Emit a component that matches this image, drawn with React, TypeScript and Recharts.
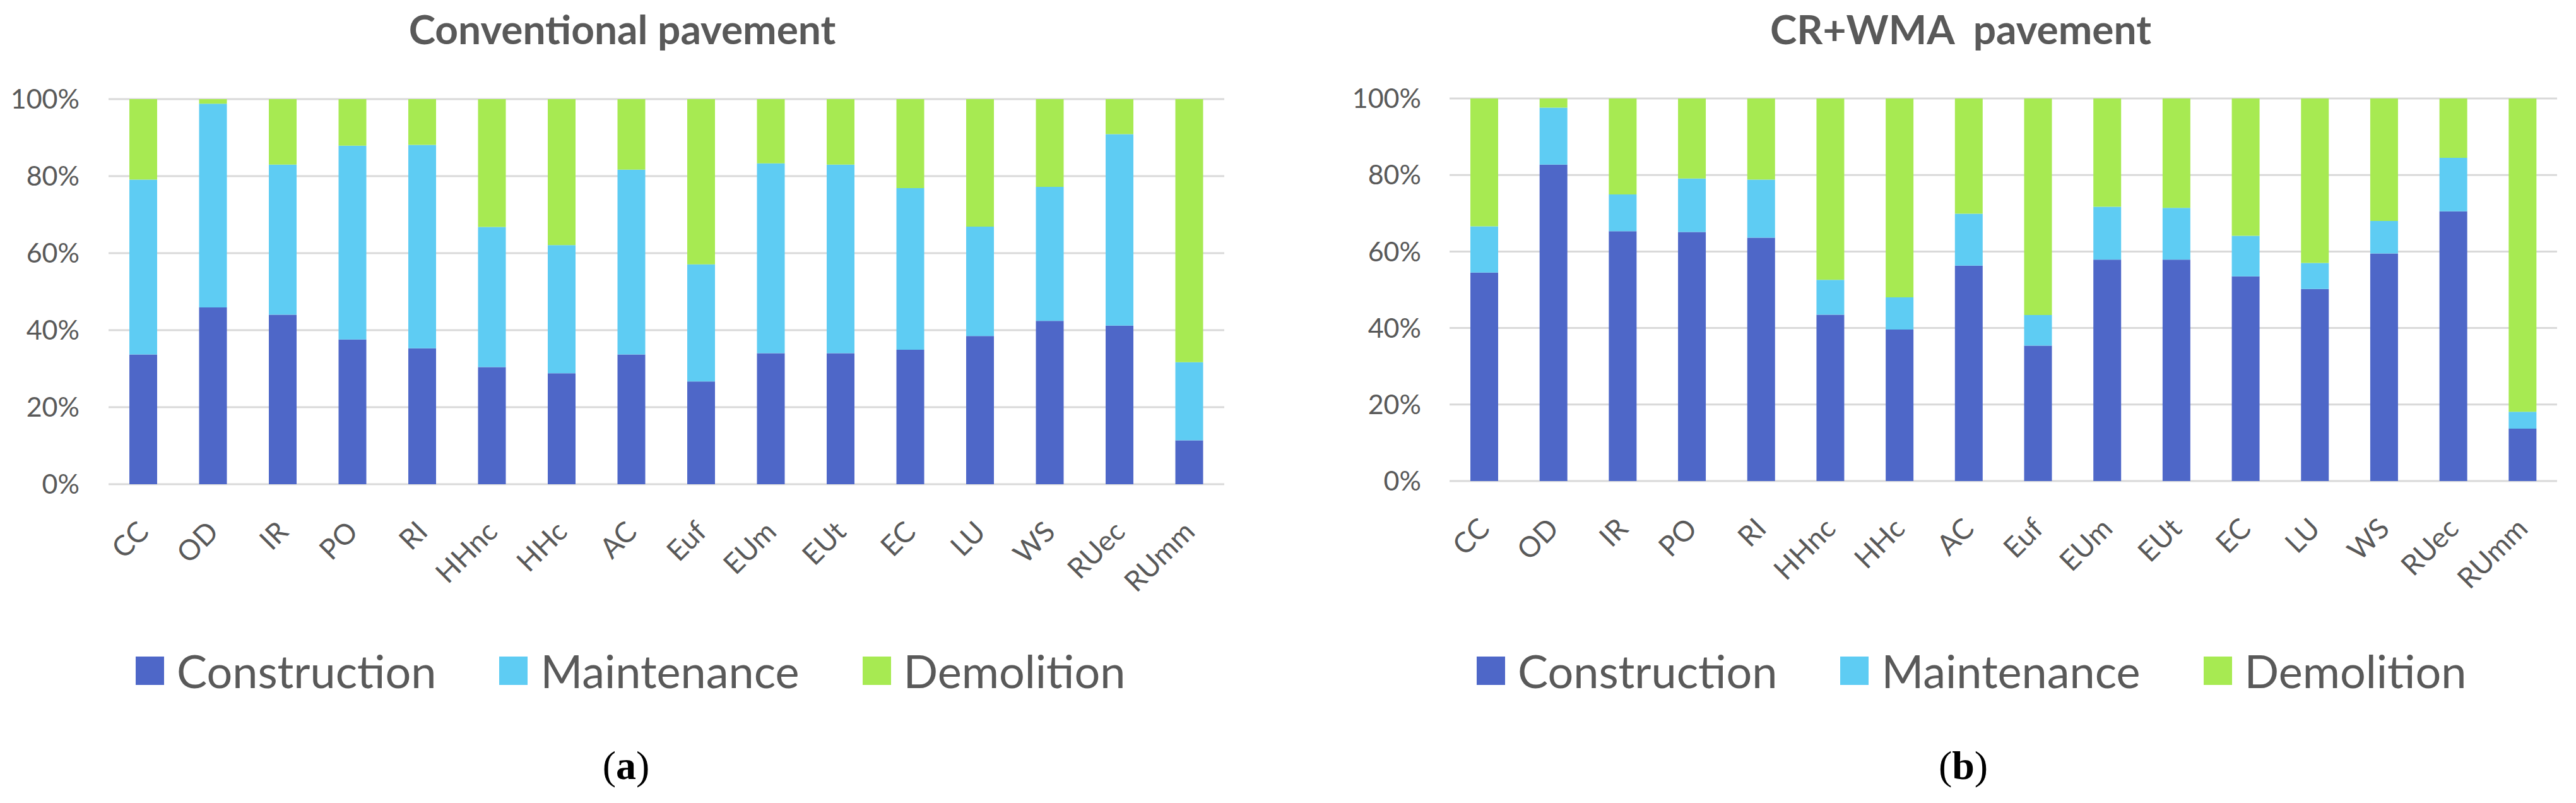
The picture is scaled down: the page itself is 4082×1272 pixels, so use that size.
import { BarChart, Bar, XAxis, YAxis, CartesianGrid } from 'recharts';

const categories = ['CC', 'OD', 'IR', 'PO', 'RI', 'HHnc', 'HHc', 'AC', 'Euf', 'EUm', 'EUt', 'EC', 'LU', 'WS', 'RUec', 'RUmm'];

// (a) conventional pavement, % of total
const convConstruction = [33.7, 45.9, 44.0, 37.6, 35.3, 30.4, 28.8, 33.7, 26.7, 34.0, 34.0, 34.9, 38.5, 42.4, 41.2, 11.4];
const convMaintenance = [45.4, 52.9, 39.0, 50.3, 52.8, 36.4, 33.3, 48.0, 30.4, 49.3, 49.0, 42.0, 28.4, 34.8, 49.7, 20.3];
const convDemolition = [20.9, 1.2, 17.0, 12.1, 11.9, 33.2, 37.9, 18.3, 42.9, 16.7, 17.0, 23.1, 33.1, 22.8, 9.1, 68.3];

// (b) CR+WMA pavement, % of total
const wmaConstruction = [54.5, 82.7, 65.3, 65.1, 63.6, 43.5, 39.6, 56.3, 35.4, 57.9, 57.9, 53.5, 50.2, 59.5, 70.5, 13.7];
const wmaMaintenance = [12.1, 14.9, 9.6, 14.0, 15.2, 9.1, 8.4, 13.6, 8.0, 13.8, 13.5, 10.6, 6.8, 8.5, 14.0, 4.4];
const wmaDemolition = [33.4, 2.4, 25.1, 20.9, 21.2, 47.4, 52.0, 30.1, 56.6, 28.3, 28.6, 35.9, 43.0, 32.0, 15.5, 81.9];

const yTicks = [0, 0.2, 0.4, 0.6, 0.8, 1];
const seriesKeys = ['construction', 'maintenance', 'demolition'];
const seriesNames = ['Construction', 'Maintenance', 'Demolition'];
const seriesColors = ['#4E67C8', '#5ECCF3', '#A7EA52'];

const FONT = 'Lato, "Open Sans", sans-serif';
const TEXT = '#595959';
const CHART_H = 1000;

function buildRows(c: number[], m: number[], d: number[]) {
  return categories.map((name, i) => ({
    name,
    construction: c[i],
    maintenance: m[i],
    demolition: d[i],
  }));
}

const convRows = buildRows(convConstruction, convMaintenance, convDemolition);
const wmaRows = buildRows(wmaConstruction, wmaMaintenance, wmaDemolition);

function SlantTick(props: any) {
  const { x, y, payload } = props;
  const py = y + 67;
  return (
    <text
      x={x}
      y={py}
      dy="0.35em"
      textAnchor="end"
      transform={`rotate(-45, ${x}, ${py})`}
      fontFamily={FONT}
      fontSize={45}
      fill={TEXT}
    >
      {payload.value}
    </text>
  );
}

interface PanelProps {
  left: number;
  title: string;
  titleX: number;
  rows: any[];
  margin: { top: number; right: number; left: number; bottom: number };
  plotBottom: number;
  tickGap: number;
  legendX: number;
  caption: string;
  captionX: number;
}

function Panel({ left, title, titleX, rows, margin, plotBottom, tickGap, legendX, caption, captionX }: PanelProps) {
  return (
    <div style={{ position: 'absolute', left, top: 0, width: 2041, height: 1272 }}>
      <div
        style={{
          position: 'absolute',
          left: titleX - left,
          top: 45,
          transform: 'translate(-50%, -50%)',
          fontFamily: FONT,
          fontWeight: 700,
          fontSize: 64,
          color: TEXT,
          whiteSpace: 'pre',
        }}
      >
        {title}
      </div>
      <div style={{ position: 'absolute', left: 0, top: 0 }}>
        <BarChart width={2041} height={CHART_H} data={rows} stackOffset="expand" margin={margin}>
          <CartesianGrid vertical={false} stroke="#D9D9D9" strokeWidth={3} />
          <XAxis
            dataKey="name"
            interval={0}
            height={CHART_H - plotBottom}
            axisLine={false}
            tickLine={false}
            tickSize={0}
            tickMargin={0}
            tick={<SlantTick />}
          />
          <YAxis
            width={130}
            domain={[0, 1]}
            ticks={yTicks}
            axisLine={false}
            tickLine={false}
            tickSize={0}
            tickMargin={tickGap}
            tickFormatter={(v: number) => `${Math.round(v * 100)}%`}
            tick={{ fontFamily: FONT, fontSize: 43, fill: TEXT }}
          />
          {seriesKeys.map((k, i) => (
            <Bar key={k} dataKey={k} name={seriesNames[i]} stackId="a" fill={seriesColors[i]} barSize={44} isAnimationActive={false} />
          ))}
        </BarChart>
      </div>
      <div
        style={{
          position: 'absolute',
          left: legendX - left,
          top: 1062,
          transform: 'translateY(-50%)',
          display: 'flex',
          alignItems: 'center',
          gap: 100,
          fontFamily: FONT,
          fontSize: 72,
          color: TEXT,
          whiteSpace: 'nowrap',
        }}
      >
        {seriesNames.map((n, i) => (
          <div key={n} style={{ display: 'flex', alignItems: 'center', gap: 20 }}>
            <span style={{ display: 'inline-block', width: 45, height: 45, background: seriesColors[i] }} />
            <span>{n}</span>
          </div>
        ))}
      </div>
      <div
        style={{
          position: 'absolute',
          left: captionX - left,
          top: 1213,
          transform: 'translate(-50%, -50%)',
          fontFamily: '"Liberation Serif", "Times New Roman", serif',
          fontSize: 64,
          color: '#000',
        }}
      >
        (<b>{caption}</b>)
      </div>
    </div>
  );
}

export default function App() {
  return (
    <div style={{ position: 'relative', left: -8, top: -8, width: 4082, height: 1272, background: '#fff' }}>
      <Panel
        left={0}
        title="Conventional pavement"
        titleX={986}
        rows={convRows}
        margin={{ top: 157, right: 101, left: 42, bottom: 0 }}
        plotBottom={767}
        tickGap={46}
        legendX={215}
        caption="a"
        captionX={992}
      />
      <Panel
        left={2041}
        title="CR+WMA  pavement"
        titleX={3107}
        rows={wmaRows}
        margin={{ top: 156, right: 30, left: 126, bottom: 0 }}
        plotBottom={762}
        tickGap={45}
        legendX={2340}
        caption="b"
        captionX={3111}
      />
    </div>
  );
}
